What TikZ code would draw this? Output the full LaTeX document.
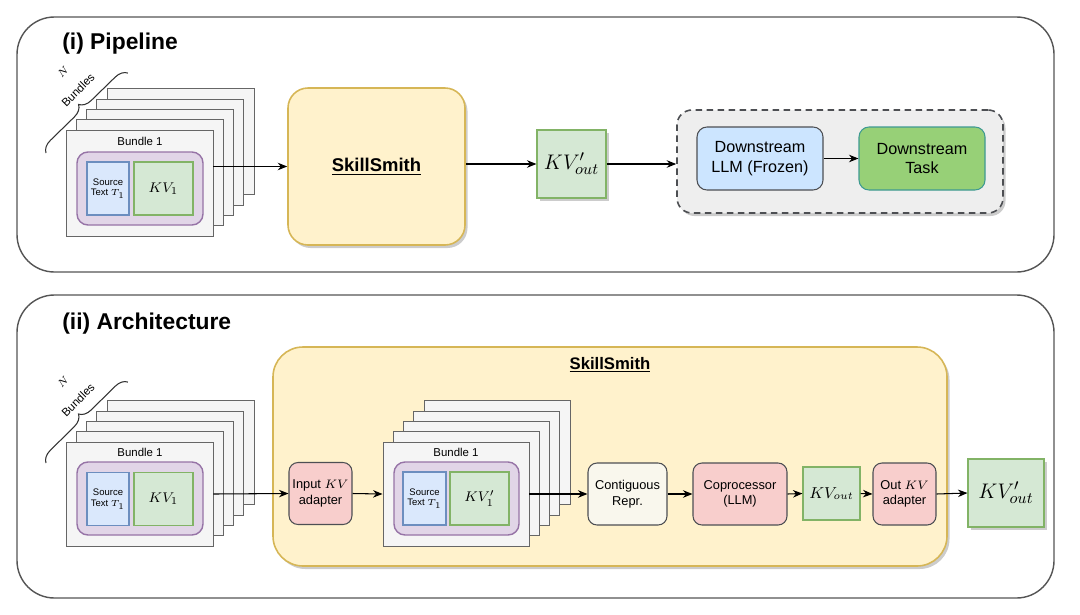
\documentclass[tikz,border=0pt]{standalone}
\usepackage[no-math]{fontspec}
\setmainfont{Liberation Sans}
\usepackage{amsmath}
\usetikzlibrary{positioning,arrows.meta,calc,shadows,decorations.pathreplacing}

\definecolor{panelline}{HTML}{555555}
\definecolor{cardline}{HTML}{666666}
\definecolor{cardfill}{HTML}{F5F5F5}
\definecolor{purpleline}{HTML}{9673A6}
\definecolor{purplefill}{HTML}{E1D5E7}
\definecolor{blueline}{HTML}{6C8EBF}
\definecolor{bluefill}{HTML}{DAE8FC}
\definecolor{greenline}{HTML}{82B366}
\definecolor{greenfill}{HTML}{D5E8D4}
\definecolor{yellowline}{HTML}{D6B656}
\definecolor{yellowfill}{HTML}{FFF2CC}
\definecolor{redfill}{HTML}{F8CECC}
\definecolor{darkline}{HTML}{4D4F53}
\definecolor{llmfill}{HTML}{CCE5FF}
\definecolor{taskfill}{HTML}{97D077}
\definecolor{taskline}{HTML}{3E9A92}
\definecolor{reprfill}{HTML}{F9F7ED}
\definecolor{dashfill}{HTML}{EEEEEE}

\begin{document}
\begin{tikzpicture}[
  x=0.2mm, y=-0.2mm,
  >={Stealth[length=1.9mm,width=1.5mm]},
  panel/.style={draw=panelline, line width=0.8pt, rounded corners=7.5mm},
  title/.style={anchor=west, inner sep=0pt, font=\fontsize{13}{15}\selectfont\bfseries},
  card/.style={draw=cardline, fill=cardfill, line width=0.55pt, inner sep=0pt},
  bundlelbl/.style={inner sep=0pt, font=\fontsize{6.5}{7.5}\selectfont},
  bundlebox/.style={draw=purpleline, fill=purplefill, line width=0.8pt, rounded corners=2.2mm, inner sep=0pt,
                    minimum width=25.2mm, minimum height=14.6mm},
  srcbox/.style={draw=blueline, fill=bluefill, line width=0.6pt, inner sep=0pt, align=center,
                 minimum width=8.4mm, minimum height=10.6mm, font=\fontsize{5.4}{6.2}\selectfont},
  kvbox/.style={draw=greenline, fill=greenfill, line width=0.6pt, inner sep=0pt},
  smithbox/.style={draw=yellowline, fill=yellowfill, line width=0.9pt, inner sep=0pt},
  redbox/.style={draw=darkline, fill=redfill, line width=0.6pt, rounded corners=1.8mm, inner sep=0pt, align=center,
                 minimum height=12.4mm, font=\fontsize{7.3}{8.8}\selectfont},
  softshadow/.style={drop shadow={shadow xshift=0.5mm, shadow yshift=-0.6mm, opacity=0.2, fill=black}},
  bracelbl/.style={rotate=45, inner sep=0pt, font=\fontsize{6.5}{7.5}\selectfont},
  nbrace/.style={decorate, decoration={brace, amplitude=2.4mm}, line width=0.6pt, draw=black!80},
  flow/.style={->, line width=0.6pt}
]
  \useasboundingbox (0,0) rectangle (1080,614);

  % (i) pipeline
  \draw[panel] (17,17) rectangle (1054,272);
  \node[title] (t1) at (62,44) {(i) Pipeline};

  \draw[nbrace] (46,153) -- (128,73);
  \node[bracelbl] (p1n) at (63,72) {$N$};
  \node[bracelbl] (p1nb) at (78,90) {Bundles};

  \foreach \k in {4,3,2,1}
    \draw[card] (66+10.3*\k,130-10.3*\k) rectangle +(147,106);
  \node[card, minimum width=29.4mm, minimum height=21.2mm] (p1card) at (139.5,183) {};
  \node[bundlelbl] (p1lbl) at (140,141) {Bundle 1};
  \node[bundlebox] (p1bun) at (140,188.5) {};
  \node[srcbox] (p1src) at (108,188.5) {Source\\Text $T_1$};
  \node[kvbox, minimum width=11.8mm, minimum height=10.6mm, font=\fontsize{8}{9}\selectfont] (p1kv) at (163.5,188.5) {$KV_1$};

  \node[smithbox, softshadow, rounded corners=4mm, minimum width=35.4mm, minimum height=31.4mm,
        font=\fontsize{10.5}{12}\selectfont\bfseries] (smith1) at (376.5,166.5) {\underline{SkillSmith}};
  \node[kvbox, softshadow, minimum width=13.8mm, minimum height=13.6mm,
        font=\fontsize{13}{15}\selectfont] (kvout1) at (571.5,164) {$KV'_{out}$};

  \node[draw=darkline, fill=dashfill, softshadow, line width=0.9pt, dash pattern=on 1.3mm off 0.9mm,
        rounded corners=3mm, minimum width=65.2mm, minimum height=20.6mm] (downbox) at (840,161.5) {};
  \node[draw=darkline, fill=llmfill, line width=0.6pt, rounded corners=2mm, inner sep=0pt, align=center,
        minimum width=25.2mm, minimum height=12.6mm, font=\fontsize{9.2}{11}\selectfont] (llm) at (760,158.5) {Downstream\\LLM (Frozen)};
  \node[draw=taskline, fill=taskfill, line width=0.6pt, rounded corners=2mm, inner sep=0pt, align=center,
        minimum width=25.2mm, minimum height=12.6mm, font=\fontsize{9.2}{11}\selectfont] (task) at (922,158.5) {Downstream\\Task};

  \draw[flow] (p1card.east |- smith1.west) -- (smith1.west);
  \draw[flow] (smith1.east |- kvout1.west) -- (kvout1.west);
  \draw[flow] (kvout1.east) -- (kvout1.east -| downbox.west);
  \draw[flow] (llm.east) -- (task.west);

  % (ii) architecture
  \draw[panel] (17,295) rectangle (1054,598);
  \node[title] (t2) at (62,324) {(ii) Architecture};

  \draw[nbrace] (46,463) -- (128,382);
  \node[bracelbl] (p2n) at (63,382) {$N$};
  \node[bracelbl] (p2nb) at (78,400) {Bundles};

  \foreach \k in {4,3,2,1}
    \draw[card] (66+10.3*\k,442-10.3*\k) rectangle +(147,104);
  \node[card, minimum width=29.4mm, minimum height=20.8mm] (p2card) at (139.5,494) {};
  \node[bundlelbl] (p2lbl) at (140,452) {Bundle 1};
  \node[bundlebox] (p2bun) at (140,498.5) {};
  \node[srcbox] (p2src) at (108,499) {Source\\Text $T_1$};
  \node[kvbox, minimum width=11.8mm, minimum height=10.6mm, font=\fontsize{8}{9}\selectfont] (p2kv) at (163.5,499) {$KV_1$};

  \node[smithbox, softshadow, rounded corners=6mm, minimum width=134.8mm, minimum height=43.8mm] (smith2) at (610,456.5) {};
  \node[inner sep=0pt, font=\fontsize{9.5}{11}\selectfont\bfseries] (smith2lbl) at (610,365) {\underline{SkillSmith}};

  \node[redbox, minimum width=12.6mm] (inadapt) at (320.5,493.5) {Input $KV$\\adapter};

  \foreach \k in {4,3,2,1}
    \draw[card] (383+10.3*\k,442-10.3*\k) rectangle +(146,104);
  \node[card, minimum width=29.2mm, minimum height=20.8mm] (p3card) at (456,494) {};
  \node[bundlelbl] (p3lbl) at (456,452) {Bundle 1};
  \node[bundlebox, minimum width=25mm] (p3bun) at (456.5,498.5) {};
  \node[srcbox, minimum width=8.6mm] (p3src) at (424.5,498.5) {Source\\Text $T_1$};
  \node[kvbox, minimum width=11.8mm, minimum height=10.6mm, font=\fontsize{8}{9}\selectfont] (p3kv) at (479.5,498.5) {$KV'_1$};

  \node[redbox, fill=reprfill, minimum width=15.8mm] (contig) at (627.5,494) {Contiguous\\Repr.};
  \node[redbox, minimum width=18.8mm] (copro) at (740,494) {Coprocessor\\(LLM)};
  \node[kvbox, minimum width=11.4mm, minimum height=10.6mm, font=\fontsize{9}{10}\selectfont] (kvsmall) at (831.5,493.5) {$KV_{out}$};
  \node[redbox, minimum width=12.6mm] (outadapt) at (904.5,494) {Out $KV$\\adapter};
  \node[kvbox, softshadow, minimum width=15.2mm, minimum height=13.6mm,
        font=\fontsize{13}{15}\selectfont] (kvout2) at (1006,493) {$KV'_{out}$};

  \draw[flow] (p2card.east) -- (inadapt.west);
  \draw[flow] (inadapt.east) -- (p3card.west);
  \draw[flow] (p3card.east) -- (contig.west);
  \draw[flow] (contig.east) -- (copro.west);
  \draw[flow] (copro.east) -- (kvsmall.west);
  \draw[flow] (kvsmall.east) -- (outadapt.west);
  \draw[flow] (outadapt.east) -- (kvout2.west);
\end{tikzpicture}
\end{document}
